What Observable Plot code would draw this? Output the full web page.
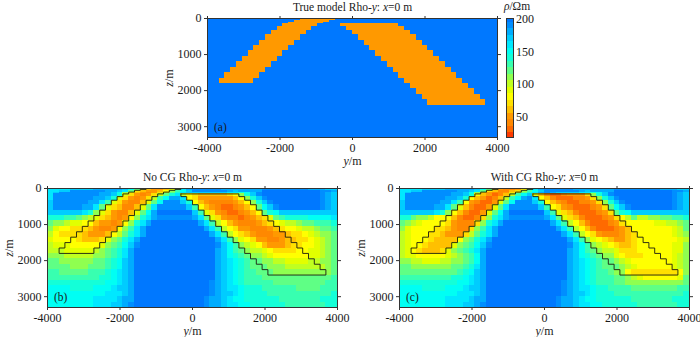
<!DOCTYPE html>
<html>
<head>
<meta charset="utf-8">
<script src="https://cdn.jsdelivr.net/npm/d3@7"></script>
<script src="https://cdn.jsdelivr.net/npm/@observablehq/plot@0.6"></script>
<style>
html,body{margin:0;padding:0;background:#fff;}
#chart{position:relative;width:700px;height:337px;overflow:hidden;}
#chart svg{position:absolute;background:transparent;}
</style>
</head>
<body>
<div id="chart"></div>
<script>
// Model mesh: 50 columns of 160 m across y, non-uniform layers in z.
const yEdges = d3.range(-4000, 4001, 160);
const zEdges = [0,25,50,100,150,225,325,450,600,750,900,1050,1200,1350,1500,1650,1800,1950,2100,2250,2400,2550,2700,2850,3000,3150,3300];

// Resistivity bodies: first/last+1 column for each layer.
const leftFirstLayer = 0;
const leftStart = [17,16,15,14,13,12,11,10,9,8,7,6,5,4,3,2];
const leftEnd   = [23,22,21,20,19,18,17,16,15,14,13,12,11,10,9,8];
const rightFirstLayer = 4;
const rightStart = [23,24,25,26,27,28,29,30,31,32,33,34,35,36,37,38];
const rightEnd   = [33,34,35,36,37,38,39,40,41,42,43,44,45,46,47,48];
const rhoBackground = 200;
const rhoBody = 50;

// Inverted sections: one string per z layer, one base-36 digit per column, rho = digit x 10.
const rowsNoCG = [
"ggggg"+"hhhhh"+"iii"+"hh"+"f"+"c"+"865568"+"c"+"g"+"iiiiiiiiiiii"+"jjjjjjjj"+"iii"+"hh",
"gggghhhhiiiii"+"hfc"+"865569"+"cgi"+"jjjjj"+"iiiiiii"+"jjjjjjjj"+"iiihh",
"gghh"+"jjjjjj"+"ii"+"hg"+"c"+"765568"+"bdfh"+"jjjjjj"+"ihiiii"+"kkkkkkkkkk"+"jji",
"gh"+"jjjjjjj"+"ii"+"hf"+"b"+"865457"+"aceg"+"h"+"hhhhhh"+"gg"+"e"+"fhj"+"kkkkkkkkkk"+"jih",
"g"+"jjjjjjjj"+"ii"+"he"+"975457"+"aceg"+"a876666678"+"behj"+"kkkkkkkkkk"+"jih",
"gjjjjjjjiihe"+"975457"+"adfiig"+"8755555568"+"behj"+"kkkkkkkkk"+"jih",
"hjjjjjjiigd"+"975446"+"9cfjjjhe"+"8654444568"+"behj"+"kkkkkkkk"+"jih",
"hjjjjjiigc"+"976446"+"9cgjjjjjhd"+"8654334568"+"cfhj"+"kkkkkkk"+"jih",
"hhhhhhgeb"+"975446"+"9cfikkkkkkhd"+"9754334568"+"cef"+"hhhhhhhhhh",
"eeeddcba"+"976545"+"8begi"+"jjjjjj"+"igc"+"9754434567"+"9cd"+"eeee"+"fff"+"fg",
"cbba998"+"865545"+"8begi"+"kkkkkkkk"+"igd"+"a865444567"+"89aab"+"ccddde",
"b98877"+"765445"+"8bdgi"+"kkkkkkkkkk"+"igd"+"a875544456"+"7889aabccd",
"a8777"+"765556"+"8acegi"+"kkkkkkkkkkk"+"igd"+"a876544455"+"67789abbc",
"9888"+"876667"+"9bcegi"+"kkkkkkkkkkkkk"+"igd"+"b987554456"+"67789abc",
"a99"+"988888"+"9bcdfhj"+"kkkkkkkkkkkkk"+"jhfd"+"ba98655567"+"7889abc",
"aa"+"a99999"+"abcdegi"+"kkkkkkkkkkkkkk"+"ihfdc"+"baa9877778"+"899abc",
"bbbaaaaabbcdegi"+"kkkkkkkkkkkkkk"+"ihfedc"+"bba9888888"+"99abc",
"ccbbbbbbccdefhi"+"kkkkkkkkkkkkkk"+"ihgfedc"+"cbbaa9999a"+"abbc",
"ccccbbbcccdefhi"+"kkkkkkkkkkkkkk"+"ihgfedcc"+"cbbbaaaaaa"+"abc",
"ddcccccdddefghi"+"kkkkkkkkkkkkkk"+"ihgfeddcc"+"cbbbbbbbbb"+"bc",
"dddddddddeefghi"+"kkkkkkkkkkkkkk"+"ihgfedddc"+"cccccccccc"+"cd",
"eeeeeeeeeeffghi"+"kkkkkkkkkkkkk"+"jihgfedddd"+"dcccccccccdd",
"ffffeeeefffghhi"+"kkkkkkkkkkkkk"+"jihggfeeed"+"dddddccccddd",
"ffffffffffggghi"+"kkkkkkkkkkkkk"+"jihhgfeeee"+"ddddddddddde",
"ffffffffgggghii"+"kkkkkkkkkkkk"+"jiihgffeeee"+"eedddddddeee",
"ffffffffggghhij"+"kkkkkkkkkkkk"+"jiihggffeee"+"eeedddddddee"
];
const rowsWithCG = [
"ggggghhhhhiiihhfc"+"754457"+"dg"+"iiiiiiiiiiii"+"jjjjjjjj"+"iiihh",
"gggghhhhiiiiihfc"+"754458"+"dgi"+"jjjjj"+"iiiiiii"+"jjjjjjjj"+"iiihh",
"gghh"+"jjjjjj"+"ii"+"hg"+"c"+"764467"+"bdfh"+"jjjjjj"+"ihiiii"+"kkkkkkkkkk"+"jji",
"gh"+"jjjjjjj"+"ii"+"hf"+"b"+"754457"+"aceg"+"i"+"jihhhh"+"gg"+"e"+"fhj"+"kkkkkkkkkk"+"jih",
"gjjjjjjjjiihe"+"865346"+"adfh"+"9643345557"+"behj"+"kkkkkkkkkk"+"jih",
"gjjjjjjjiihe"+"865346"+"adfijg"+"8643334457"+"behj"+"kkkkkkkkk"+"jih",
"hjjjjjjiigd"+"854335"+"9cfjjjhe"+"8654334457"+"behj"+"kkkkkkkk"+"jih",
"hjjjjjiigc"+"964335"+"9cgjjjjjhd"+"8754333457"+"cfhj"+"kkkkkkk"+"jih",
"hhhhhhgeb"+"864335"+"9cfikkkkkkhd"+"9764333457"+"cef"+"hhhhhhhhhh",
"eecbba88"+"864334"+"7begi"+"jjjjjj"+"igc"+"9764333457"+"8ac"+"aabb"+"ccd"+"de",
"cba9888"+"875444"+"7begi"+"kkkkkkkk"+"igd"+"a864333457"+"88888"+"99aabc",
"b98888"+"776544"+"7bdgi"+"kkkkkkkkkk"+"igd"+"a864333456"+"8888888"+"9ac",
"a9888"+"776555"+"7acegi"+"kkkkkkkkkkk"+"igd"+"a875444567"+"888888"+"9ab",
"a988"+"876666"+"8bcegi"+"kkkkkkkkkkkkk"+"igd"+"b987655678"+"8888889a",
"a98"+"876666"+"9bcdfhj"+"kkkkkkkkkkkkk"+"jhfd"+"ba98766788"+"888899b",
"a9"+"876667"+"9bcdegi"+"kkkkkkkkkkkkkk"+"ihfdc"+"baa9777888"+"88899b",
"a99888889abcdfi"+"kkkkkkkkkkkkkk"+"ihfedc"+"bb98777888"+"889ab",
"bbaa999aabbcdfi"+"kkkkkkkkkkkkkk"+"ihgfedc"+"cba9888888"+"89ab",
"ccbbbbbbbccdegi"+"kkkkkkkkkkkkkk"+"ihgfedcc"+"cba9888888"+"9ab",
"ccccccccccdefhi"+"kkkkkkkkkkkkkk"+"ihgfeddcb"+"b877777777"+"8b",
"dddddddddeefghi"+"kkkkkkkkkkkkkk"+"ihgfedddc"+"cba9888888"+"9c",
"eeeeeeeeeeffghi"+"kkkkkkkkkkkkk"+"jihgfedddc"+"cbbbbbbbbbbc",
"ffffeeeefffghhi"+"kkkkkkkkkkkkk"+"jihggfeedd"+"ddccccccccdd",
"ffffffffffggghi"+"kkkkkkkkkkkkk"+"jihhgfeeed"+"ddddddddddde",
"ffffffffgggghii"+"kkkkkkkkkkkk"+"jiihgffeeee"+"eedddddddeee",
"ffffffffggghhij"+"kkkkkkkkkkkk"+"jiihggffeee"+"eeedddddddee"
];

// Colour bar.
const barLevels = [20,30,40,50,60,70,80,90,100,110,120,130,140,150,160,170,180,190,200];
const barTicks = [50,100,150,200];
const colorStops = [20,30,40,50,60,70,80,90,100,110,120,130,140,150,160,170,180,190,200];
const colorRange = ["#ff3a00","#ff6a00","#ff8800","#ff9900","#ffc000","#ffe000","#ffff00","#e2ff00","#c0ff20","#8fff50","#5fff85","#38ffb0","#14ffd8","#00fff4","#00e8ff","#00ccff","#00acff","#008eff","#0078ff"];
const yTicks = [-4000,-2000,0,2000,4000];
const zTicks = [0,1000,2000,3000];

const serif = '"Liberation Serif","Times New Roman",serif';
const ink = "#1a1a1a";
const color = {type:"linear", domain:colorStops, range:colorRange, clamp:true};

function cellsFromRows(rows){
  const out = [];
  rows.forEach((row,r)=>{
    const s = row.padEnd(50,row[row.length-1]).slice(0,50);
    for(let c=0;c<50;c++){
      out.push({y1:yEdges[c],y2:yEdges[c+1],z1:zEdges[r],z2:zEdges[r+1],rho:parseInt(s[c],36)*10});
    }
  });
  return out;
}
function cellsFromModel(){
  const out = [];
  for(let r=0;r<zEdges.length-1;r++){
    for(let c=0;c<50;c++){
      const li=r-leftFirstLayer, ri=r-rightFirstLayer;
      const inL = li>=0 && li<leftStart.length && c>=leftStart[li] && c<leftEnd[li];
      const inR = ri>=0 && ri<rightStart.length && c>=rightStart[ri] && c<rightEnd[ri];
      out.push({y1:yEdges[c],y2:yEdges[c+1],z1:zEdges[r],z2:zEdges[r+1],rho:(inL||inR)?rhoBody:rhoBackground});
    }
  }
  return out;
}
function outline(first,starts,ends){
  const pts=[];
  const n=starts.length;
  pts.push([yEdges[starts[0]],zEdges[first]]);
  for(let i=0;i<n;i++){
    pts.push([yEdges[ends[i]],zEdges[first+i]]);
    pts.push([yEdges[ends[i]],zEdges[first+i+1]]);
  }
  for(let i=n-1;i>=0;i--){
    pts.push([yEdges[starts[i]],zEdges[first+i+1]]);
    pts.push([yEdges[starts[i]],zEdges[first+i]]);
  }
  return pts;
}
function italicize(svg){
  d3.select(svg).selectAll("text").each(function(){
    const t=this.textContent;
    if(!t.includes("*")) return;
    const sel=d3.select(this).text(null);
    t.split("*").forEach((part,i)=>{
      if(part) sel.append("tspan").attr("font-style",i%2?"italic":"normal").text(part);
    });
  });
}

const W=290,H=119,ML=60,MT=18,MB=30,MR=6;
function panel(cells,title,tag,showOutline,left,top){
  const marks=[
    Plot.rect(cells,{x1:"y1",x2:"y2",y1:"z1",y2:"z2",fill:"rho",shapeRendering:"crispEdges"})
  ];
  if(showOutline){
    marks.push(Plot.line(outline(leftFirstLayer,leftStart,leftEnd),{x:d=>d[0],y:d=>d[1],stroke:"#1c1c10",strokeWidth:1,strokeOpacity:.9}));
    marks.push(Plot.line(outline(rightFirstLayer,rightStart,rightEnd),{x:d=>d[0],y:d=>d[1],stroke:"#1c1c10",strokeWidth:1,strokeOpacity:.9}));
  }
  marks.push(
    Plot.frame({stroke:"#333",strokeWidth:1}),
    Plot.axisX({anchor:"bottom",ticks:yTicks,tickFormat:d=>String(d),tickSize:3,tickPadding:3,label:null,stroke:"#333"}),
    Plot.axisX({anchor:"top",ticks:yTicks,tickFormat:()=>"",tickSize:3,label:null,stroke:"#333"}),
    Plot.axisY({anchor:"left",ticks:zTicks,tickFormat:d=>String(d),tickSize:3,tickPadding:3,label:null,stroke:"#333"}),
    Plot.axisY({anchor:"right",ticks:zTicks,tickFormat:()=>"",tickSize:3,label:null,stroke:"#333"}),
    Plot.text([title],{frameAnchor:"top",lineAnchor:"middle",dy:-11.5,fill:ink,fontSize:11.5}),
    Plot.text(["*y*/m"],{frameAnchor:"bottom",lineAnchor:"middle",dy:23.5,fill:ink,fontSize:12}),
    Plot.text(["*z*/m"],{frameAnchor:"left",textAnchor:"middle",rotate:-90,dx:-38,fill:ink,fontSize:12}),
    Plot.text([tag],{frameAnchor:"bottom-left",lineAnchor:"middle",dx:6.5,dy:-10,fill:ink,fontSize:11.5,textAnchor:"start"})
  );
  const svg=Plot.plot({
    width:W+ML+MR,height:H+MT+MB,marginLeft:ML,marginRight:MR,marginTop:MT,marginBottom:MB,
    x:{domain:[-4000,4000]},
    y:{domain:[0,3300],reverse:true},
    color,
    style:{fontFamily:serif,fontSize:"12px",color:ink,background:"transparent",overflow:"visible"},
    marks
  });
  italicize(svg);
  svg.style.left=(left-ML)+"px";
  svg.style.top=(top-MT)+"px";
  return svg;
}
function colorbar(left,top){
  const bw=7, ml=2, mr=28;
  const bars=barLevels.map((v,i)=>({v,lo:i?v-5:18,hi:i===barLevels.length-1?201:v+5}));
  const svg=Plot.plot({
    width:bw+ml+mr,height:H+MT+MB,marginLeft:ml,marginRight:mr,marginTop:MT,marginBottom:MB,
    x:{domain:[0,1],axis:null},
    y:{domain:[18,201]},
    color,
    style:{fontFamily:serif,fontSize:"12px",color:ink,background:"transparent",overflow:"visible"},
    marks:[
      Plot.rect(bars,{x1:0,x2:1,y1:"lo",y2:"hi",fill:"v",shapeRendering:"crispEdges"}),
      Plot.frame({stroke:"#333",strokeWidth:1}),
      Plot.axisY({anchor:"right",ticks:barTicks,tickSize:0,tickPadding:2.5,label:null,tickFormat:d=>String(d)}),
      Plot.text(["*ρ*/Ωm"],{frameAnchor:"top",lineAnchor:"middle",textAnchor:"middle",dx:7,dy:-12.5,fill:ink,fontSize:11.5})
    ]
  });
  italicize(svg);
  svg.style.left=(left-ml)+"px";
  svg.style.top=(top-MT)+"px";
  return svg;
}

const root=document.getElementById("chart");
root.append(
  panel(cellsFromModel(),"True model Rho-*y*: *x*=0 m","(a)",false,207,18),
  colorbar(505.5,18),
  panel(cellsFromRows(rowsNoCG),"No CG Rho-*y*: *x*=0 m","(b)",true,47,188),
  panel(cellsFromRows(rowsWithCG),"With CG Rho-*y*: *x*=0 m","(c)",true,399,188)
);
</script>
</body>
</html>
